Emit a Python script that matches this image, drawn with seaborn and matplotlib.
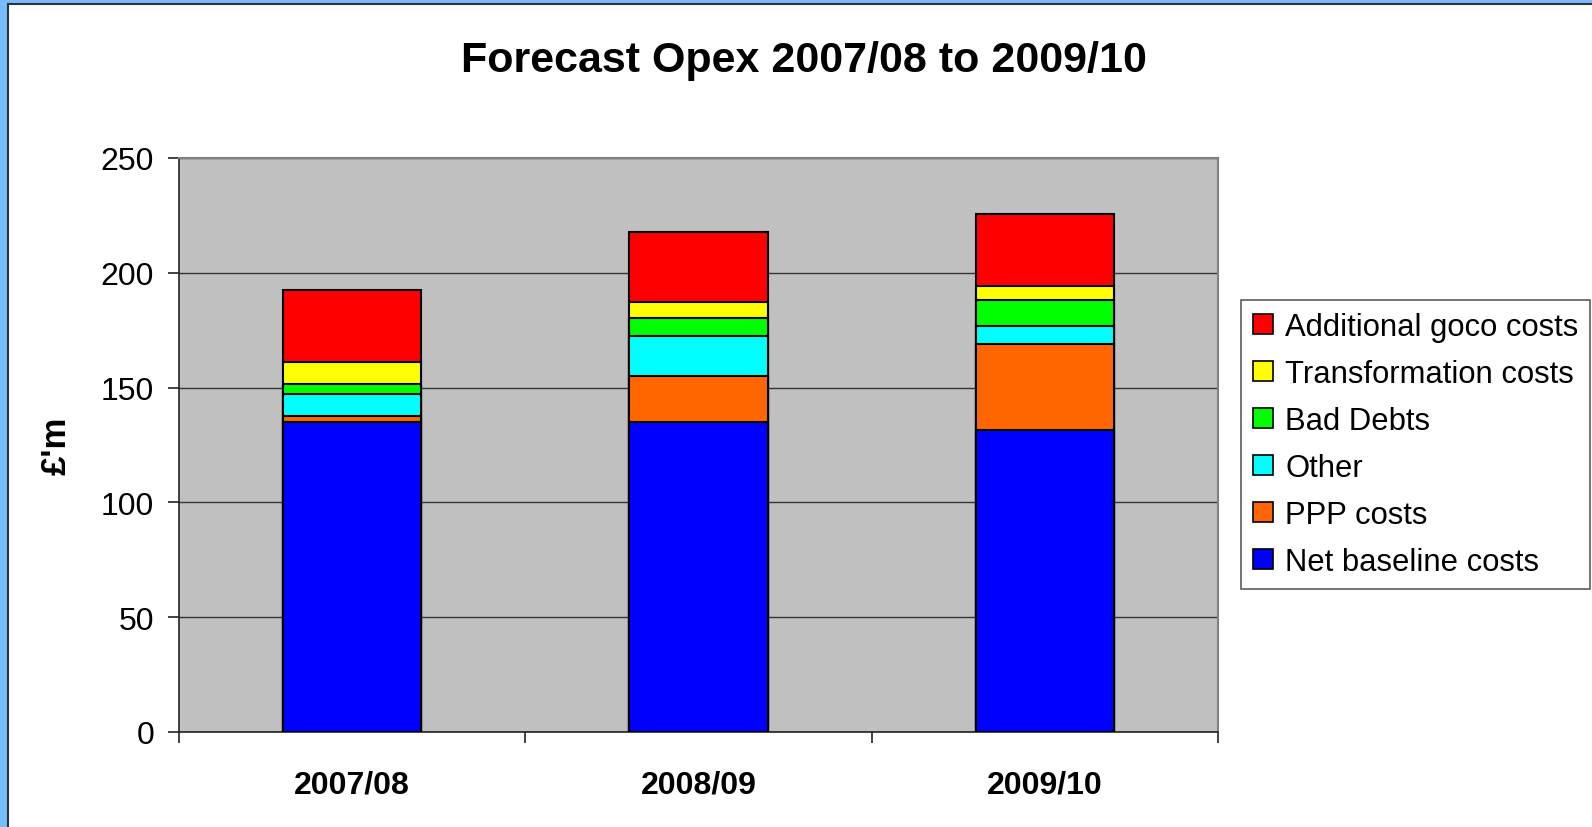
import matplotlib
matplotlib.use("Agg")
import matplotlib.pyplot as plt
import seaborn as sns
import numpy as np
from matplotlib.patches import Rectangle, Patch

# Forecast operating expenditure, £m, by year
years = ["2007/08", "2008/09", "2009/10"]
net_baseline = [135.0, 135.0, 131.5]
ppp_costs = [2.5, 20.1, 37.5]
other = [9.6, 17.4, 7.8]
bad_debts = [4.4, 7.8, 11.4]
transformation = [9.5, 7.0, 6.1]
additional_goco = [31.4, 30.5, 31.3]

series_names = ["Net baseline costs", "PPP costs", "Other", "Bad Debts",
                "Transformation costs", "Additional goco costs"]
series_values = [net_baseline, ppp_costs, other, bad_debts, transformation, additional_goco]
series_colors = ["#0000FF", "#FF6600", "#00FFFF", "#00FF00", "#FFFF00", "#FF0000"]

sns.set_style("white")
plt.rcParams["font.family"] = ["Liberation Sans", "DejaVu Sans"]
plt.rcParams["text.color"] = "black"
plt.rcParams["axes.labelcolor"] = "black"
plt.rcParams["xtick.color"] = "black"
plt.rcParams["ytick.color"] = "black"

W, H = 1592, 828
fig = plt.figure(figsize=(W / 100, H / 100), dpi=100)
fig.patch.set_facecolor("#78BDFF")
fig.patches.append(Rectangle((8 / W, -0.1), 1.1, 1.1 - 5 / H, transform=fig.transFigure,
                             facecolor="white", edgecolor="#333333", lw=1.5, zorder=-1))

ax = fig.add_axes([179 / W, 1 - 733 / H, (1218 - 179) / W, (733 - 159) / H])
ax.set_facecolor("#C0C0C0")

# Stacked bars: draw cumulative totals from the top segment down
cum = np.cumsum(np.array(series_values), axis=0)
for i in range(len(series_names) - 1, -1, -1):
    sns.barplot(x=years, y=cum[i], color=series_colors[i], saturation=1,
                width=0.4, edgecolor="black", linewidth=1.5, ax=ax, zorder=3)

ax.set_ylim(0, 250)
ax.set_xlim(-0.5, 2.5)
ax.set_yticks(np.arange(0, 251, 50))
ax.yaxis.grid(True, color="#333333", lw=1.0)
ax.set_axisbelow(True)

for s in ["top", "right"]:
    ax.spines[s].set_color("#808080")
    ax.spines[s].set_linewidth(1.5)
for s in ["left", "bottom"]:
    ax.spines[s].set_color("#222222")
    ax.spines[s].set_linewidth(1.2)

ax.tick_params(axis="y", which="major", direction="out", length=8, width=1.2,
               color="#222222", labelsize=23, pad=10, left=True)
ax.set_xticks(range(len(years)))
ax.set_xticklabels(years, fontsize=23, fontweight="bold")
ax.tick_params(axis="x", which="major", length=0, pad=27)
ax.set_xticks([-0.5, 0.5, 1.5, 2.5], minor=True)
ax.tick_params(axis="x", which="minor", direction="out", length=8, width=1.2,
               color="#222222", bottom=True)

ax.set_xlabel("")
ax.set_ylabel("£'m", fontsize=25, fontweight="bold", labelpad=20)

fig.text(0.505, 1 - 61 / H, "Forecast Opex 2007/08 to 2009/10",
         ha="center", va="center", fontsize=31, fontweight="bold")

handles = [Patch(facecolor=series_colors[i], edgecolor="black", lw=1.2, label=series_names[i])
           for i in range(len(series_names) - 1, -1, -1)]
leg = fig.legend(handles=handles, loc="upper left",
                 bbox_to_anchor=(1241 / W, 1 - 301 / H), fontsize=22.3,
                 frameon=True, fancybox=False, edgecolor="#333333",
                 handlelength=0.65, handleheight=0.65, handletextpad=0.4,
                 labelspacing=0.55, borderpad=0.38, borderaxespad=0)
leg.get_frame().set_linewidth(1.2)

fig.savefig("out.png", dpi=100, facecolor=fig.get_facecolor())
